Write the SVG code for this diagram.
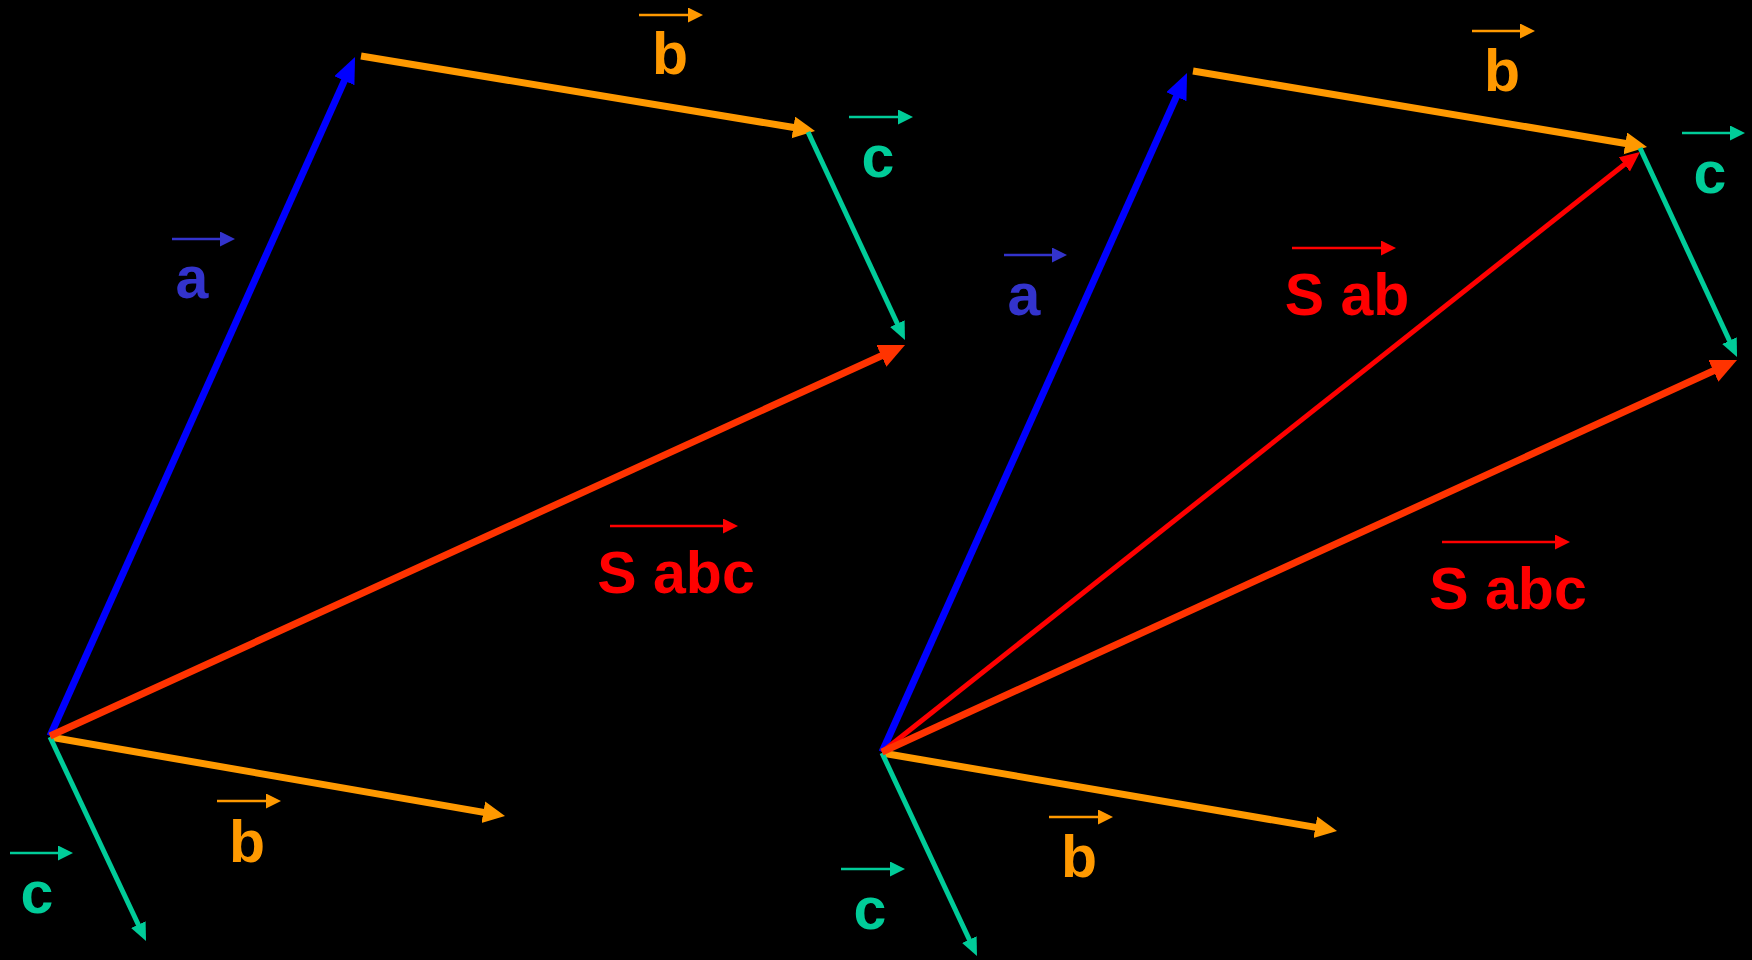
<svg xmlns="http://www.w3.org/2000/svg" width="1752" height="960" viewBox="0 0 1752 960">
<defs>
<style>
.lbl{font-family:"Liberation Sans",Arial,sans-serif;font-weight:bold;font-size:59px;text-anchor:middle}
.v{fill:none;stroke-linecap:butt}
.blue{stroke:#0000FF;stroke-width:7;marker-end:url(#hBlue)}
.orange{stroke:#FF9900;stroke-width:7;marker-end:url(#hOrange)}
.teal{stroke:#00CC99;stroke-width:5;marker-end:url(#hTeal)}
.sum{stroke:#FF3300;stroke-width:7;marker-end:url(#hSum)}
.sab{stroke:#FF0000;stroke-width:5;marker-end:url(#hSab)}
.sa{fill:none;stroke-width:2.5}
</style>
<marker id="hBlue" markerUnits="userSpaceOnUse" markerWidth="27" markerHeight="23" refX="2" refY="11" orient="auto"><path d="M0,0 L26,11 L0,22 z" fill="#0000FF"/></marker>
<marker id="hOrange" markerUnits="userSpaceOnUse" markerWidth="23" markerHeight="23" refX="2" refY="11" orient="auto"><path d="M0,0 L22,11 L0,22 z" fill="#FF9900"/></marker>
<marker id="hTeal" markerUnits="userSpaceOnUse" markerWidth="19" markerHeight="17" refX="2" refY="8" orient="auto"><path d="M0,0 L18,8 L0,16 z" fill="#00CC99"/></marker>
<marker id="hSum" markerUnits="userSpaceOnUse" markerWidth="27" markerHeight="25" refX="2" refY="12" orient="auto"><path d="M0,0 L26,12 L0,24 z" fill="#FF3300"/></marker>
<marker id="hSab" markerUnits="userSpaceOnUse" markerWidth="21" markerHeight="19" refX="2" refY="9" orient="auto"><path d="M0,0 L20,9 L0,18 z" fill="#FF0000"/></marker>
<marker id="sA" markerUnits="userSpaceOnUse" markerWidth="16" markerHeight="16" refX="1" refY="7.5" orient="auto"><path d="M0,0 L15,7.5 L0,15 z" fill="#3333CC"/></marker>
<marker id="sB" markerUnits="userSpaceOnUse" markerWidth="16" markerHeight="16" refX="1" refY="7.5" orient="auto"><path d="M0,0 L15,7.5 L0,15 z" fill="#FF9900"/></marker>
<marker id="sC" markerUnits="userSpaceOnUse" markerWidth="16" markerHeight="16" refX="1" refY="7.5" orient="auto"><path d="M0,0 L15,7.5 L0,15 z" fill="#00CC99"/></marker>
<marker id="sS" markerUnits="userSpaceOnUse" markerWidth="16" markerHeight="16" refX="1" refY="7.5" orient="auto"><path d="M0,0 L15,7.5 L0,15 z" fill="#FF0000"/></marker>
</defs>
<rect width="1752" height="960" fill="#000000"/>

<g id="connectors">
  <!-- left diagram -->
  <line class="v blue" x1="50" y1="736" x2="345.2" y2="78.9"/>
  <line class="v orange" x1="361" y1="56" x2="795.3" y2="127.8"/>
  <line class="v orange" x1="50" y1="737" x2="485.3" y2="812.6"/>
  <line class="v teal" x1="808" y1="132" x2="898.2" y2="325.5"/>
  <line class="v teal" x1="50" y1="737" x2="139.2" y2="926.5"/>
  <line class="v sum" x1="50" y1="736" x2="883.2" y2="355"/>
  <!-- right diagram -->
  <line class="v blue" x1="882" y1="752" x2="1177.2" y2="94.9"/>
  <line class="v orange" x1="1193" y1="71" x2="1627.3" y2="143.7"/>
  <line class="v orange" x1="882" y1="753" x2="1317.3" y2="827.6"/>
  <line class="v teal" x1="1640" y1="148" x2="1730.3" y2="342.5"/>
  <line class="v teal" x1="882" y1="753" x2="970.2" y2="941.5"/>
  <line class="v sab" x1="882" y1="752" x2="1625.9" y2="163.2"/>
  <line class="v sum" x1="882" y1="752" x2="1715.2" y2="370"/>
</g>

<g id="label-a-left"><line class="sa" stroke="#3333CC" marker-end="url(#sA)" x1="172" y1="239" x2="221" y2="239"/><text class="lbl" fill="#3333CC" x="192" y="298">a</text></g>
<g id="label-b-top-left"><line class="sa" stroke="#FF9900" marker-end="url(#sB)" x1="639" y1="15" x2="689" y2="15"/><text class="lbl" fill="#FF9900" x="670" y="74">b</text></g>
<g id="label-c-top-left"><line class="sa" stroke="#00CC99" marker-end="url(#sC)" x1="849" y1="117" x2="899" y2="117"/><text class="lbl" fill="#00CC99" x="878" y="177">c</text></g>
<g id="label-sabc-left"><line class="sa" stroke="#FF0000" marker-end="url(#sS)" x1="610" y1="526" x2="724" y2="526"/><text class="lbl" fill="#FF0000" x="676" y="593">S abc</text></g>
<g id="label-b-bottom-left"><line class="sa" stroke="#FF9900" marker-end="url(#sB)" x1="217" y1="801" x2="267" y2="801"/><text class="lbl" fill="#FF9900" x="247" y="862">b</text></g>
<g id="label-c-bottom-left"><line class="sa" stroke="#00CC99" marker-end="url(#sC)" x1="10" y1="853" x2="59" y2="853"/><text class="lbl" fill="#00CC99" x="37" y="913">c</text></g>

<g id="label-a-right"><line class="sa" stroke="#3333CC" marker-end="url(#sA)" x1="1004" y1="255" x2="1053" y2="255"/><text class="lbl" fill="#3333CC" x="1024" y="315">a</text></g>
<g id="label-b-top-right"><line class="sa" stroke="#FF9900" marker-end="url(#sB)" x1="1472" y1="31" x2="1521" y2="31"/><text class="lbl" fill="#FF9900" x="1502" y="91">b</text></g>
<g id="label-c-top-right"><line class="sa" stroke="#00CC99" marker-end="url(#sC)" x1="1682" y1="133" x2="1731" y2="133"/><text class="lbl" fill="#00CC99" x="1710" y="193">c</text></g>
<g id="label-sab-right"><line class="sa" stroke="#FF0000" marker-end="url(#sS)" x1="1292" y1="248" x2="1382" y2="248"/><text class="lbl" fill="#FF0000" x="1347" y="315">S ab</text></g>
<g id="label-sabc-right"><line class="sa" stroke="#FF0000" marker-end="url(#sS)" x1="1442" y1="542" x2="1556" y2="542"/><text class="lbl" fill="#FF0000" x="1508" y="609">S abc</text></g>
<g id="label-b-bottom-right"><line class="sa" stroke="#FF9900" marker-end="url(#sB)" x1="1049" y1="817" x2="1099" y2="817"/><text class="lbl" fill="#FF9900" x="1079" y="877">b</text></g>
<g id="label-c-bottom-right"><line class="sa" stroke="#00CC99" marker-end="url(#sC)" x1="841" y1="869" x2="891" y2="869"/><text class="lbl" fill="#00CC99" x="870" y="929">c</text></g>
</svg>
